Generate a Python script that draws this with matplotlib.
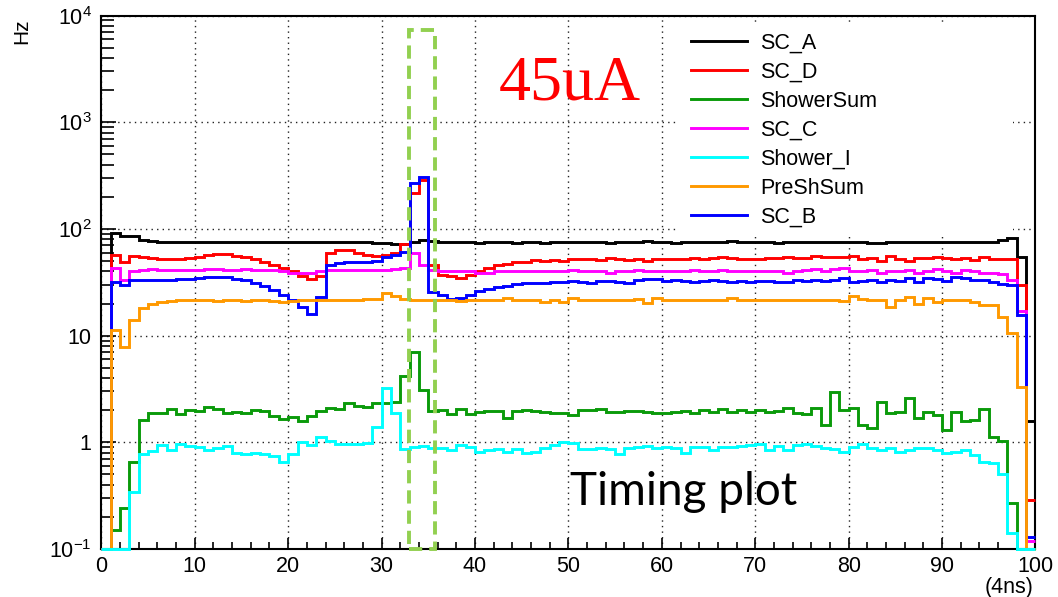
import numpy as np
import matplotlib
matplotlib.use("Agg")
import matplotlib.pyplot as plt
from matplotlib.patches import Rectangle
from matplotlib.ticker import FixedLocator, NullFormatter, MultipleLocator

plt.rcParams['font.family'] = ['Liberation Sans', 'DejaVu Sans']
plt.rcParams['mathtext.fontset'] = 'custom'
plt.rcParams['mathtext.rm'] = 'Liberation Sans'

# bin edges: 100 bins of width 1 (unit = 4 ns)
edges = np.arange(0, 101)

sc_a = [0, 92, 86, 85, 79, 77, 76, 76, 75, 76, 75, 76, 76, 75, 76, 75, 75, 76, 75, 76,
        76, 75, 76, 76, 76, 75, 76, 75, 75, 74, 74, 73, 73, 76, 78, 77, 76, 75, 75, 75,
        74, 75, 75, 75, 74, 75, 75, 74, 75, 75, 75, 75, 75, 75, 74, 75, 75, 75, 77, 76,
        75, 74, 75, 75, 75, 75, 76, 77, 75, 75, 75, 75, 74, 75, 75, 75, 75, 75, 76, 76,
        75, 75, 74, 74, 76, 75, 75, 76, 76, 75, 75, 75, 76, 76, 76, 76, 78, 82, 55, 1.6]

sc_d = [0, 57, 49, 56, 54, 53, 52, 52, 52, 53, 55, 57, 58, 58, 56, 54, 52, 49, 46, 43,
        40, 36, 34, 36, 60, 64, 63, 60, 57, 56, 57, 59, 72, 216, 290, 46, 37, 36, 35, 37,
        40, 43, 46, 47, 49, 49, 51, 50, 51, 50, 52, 52, 52, 51, 53, 52, 51, 52, 50, 52,
        52, 52, 52, 53, 52, 53, 55, 53, 52, 52, 52, 53, 53, 54, 53, 53, 56, 54, 54, 54,
        56, 52, 53, 50, 56, 52, 50, 53, 53, 55, 53, 52, 53, 51, 55, 52, 52, 52, 30, 0.29]

shower_sum = [0, 0.15, 0.24, 0.66, 1.62, 1.9, 1.9, 2.05, 1.84, 2.0,
              1.95, 2.16, 2.05, 1.87, 1.93, 1.9, 2.01, 1.95, 1.77, 1.67,
              1.71, 1.6, 1.77, 1.95, 2.1, 2.05, 2.32, 2.2, 2.16, 2.32,
              2.35, 2.4, 4.2, 7.1, 3.1, 1.95, 2.0, 1.83, 2.04, 1.83,
              1.94, 1.95, 1.97, 1.7, 1.97, 2.0, 1.97, 1.94, 1.9, 1.88,
              1.8, 2.0, 2.0, 2.04, 1.94, 1.94, 1.96, 1.96, 1.94, 1.87,
              1.9, 1.94, 1.96, 1.9, 2.0, 1.94, 2.04, 1.94, 2.0, 1.94,
              2.0, 1.94, 1.97, 2.08, 1.9, 1.85, 2.1, 1.45, 2.98, 2.0,
              2.08, 1.45, 1.35, 2.4, 1.87, 1.94, 2.58, 1.7, 1.94, 1.8,
              1.3, 1.94, 1.6, 1.62, 2.04, 1.13, 1.03, 0.27, 0, 0]

sc_c = [0, 43, 33, 40, 41, 42, 41, 41, 41, 41, 41, 42, 42, 41, 41, 42, 41, 41, 41, 40,
        39, 38.5, 38.5, 40.5, 41, 41, 41, 41, 41, 41, 41, 42, 43, 60, 46, 41, 40, 40, 40, 40,
        39, 38.5, 40, 40, 40, 40, 40, 40, 40, 40, 41.5, 40, 40, 40, 39, 40, 40, 41.5, 40, 40,
        40, 40.7, 40.7, 41.3, 40.7, 40, 41.3, 40.7, 40.7, 40, 40.7, 40.7, 40, 39, 40.7, 41.3, 41.8, 40, 41.8, 42.7,
        40, 40, 41.3, 39, 40.7, 40, 41.3, 39, 40.7, 41.8, 40, 39, 41.3, 40, 39, 39, 37.5, 33, 17, 0.12]

shower_i = [0, 0, 0, 0.34, 0.77, 0.83, 0.94, 0.85, 0.96, 0.92,
            0.9, 0.84, 0.89, 0.92, 0.79, 0.78, 0.79, 0.78, 0.75, 0.66,
            0.77, 1.0, 0.94, 1.11, 1.04, 0.96, 0.97, 0.97, 0.98, 1.4,
            3.2, 1.87, 0.86, 0.91, 0.92, 0.88, 0.88, 0.85, 0.94, 0.9,
            0.82, 0.85, 0.86, 0.82, 0.86, 0.79, 0.82, 0.88, 0.94, 1.01,
            0.98, 0.87, 0.87, 0.88, 0.87, 0.78, 0.88, 0.91, 0.92, 0.88,
            0.91, 0.88, 0.79, 0.91, 0.91, 0.84, 0.91, 0.91, 0.92, 0.94,
            0.96, 0.84, 0.92, 0.84, 0.94, 0.96, 0.92, 0.88, 0.87, 0.82,
            0.91, 0.96, 0.88, 0.84, 0.88, 0.82, 0.84, 0.88, 0.88, 0.85,
            0.79, 0.82, 0.84, 0.76, 0.66, 0.64, 0.5, 0.14, 0, 0]

pre_sh_sum = [0, 11.3, 7.8, 14, 18, 20, 20.8, 21, 21.4, 21.4,
              21.6, 21.6, 21, 21.6, 21.6, 21, 21.6, 21.6, 21, 20.8,
              21, 21.6, 21.6, 21.6, 21.6, 21.6, 21.6, 21.6, 22, 22,
              25, 23.5, 22, 21.6, 21.6, 21.6, 21.6, 21.6, 21, 21.6,
              21.6, 21.6, 21.6, 22.4, 21.6, 21.6, 21.6, 20.6, 21.6, 20.6,
              22.4, 21.6, 21.6, 21.6, 21.6, 21.6, 21.6, 22, 20.4, 22.4,
              21.6, 21.6, 21.6, 21.6, 21.6, 21.6, 21.6, 22.4, 21.6, 21.6,
              21.6, 21.6, 21.6, 21.6, 21.6, 21.6, 21.6, 21.6, 21.6, 21,
              23.5, 22, 21.6, 21.6, 18.5, 21.6, 23, 20, 22.5, 20.5,
              21.6, 21.6, 21.6, 20.8, 19.4, 19.4, 15, 10.5, 3.3, 0]

sc_b = [0, 32, 30, 33, 33, 33, 33.3, 33.3, 34, 34, 34.6, 35.8, 35.8, 35.3, 34, 33, 31, 29, 26.8, 24,
        21.6, 18.5, 15.8, 23, 46, 48, 49, 49, 49, 50, 54, 57, 61, 269, 306, 25.5, 24.2, 22, 22.4, 24.2,
        26, 27.5, 28.7, 29.5, 30.2, 31, 31.4, 31.4, 32, 32, 32.8, 32, 31.4, 32.8, 32.8, 32, 31.4, 33.5, 34, 34,
        32.7, 33.3, 32.7, 32.1, 32.7, 33.3, 32.7, 32.1, 32.7, 32.1, 32.7, 32.7, 32.1, 32.1, 33.3, 32.7, 33.3, 32.7, 33.3, 34.6,
        32.1, 32.7, 33.3, 32.1, 33.3, 32.7, 34.6, 31.5, 34.6, 34, 32.7, 35.5, 34.6, 33.3, 33.3, 32.1, 30.5, 30, 15.6, 0.13]

names = ["SC_A", "SC_D", "ShowerSum", "SC_C", "Shower_I", "PreShSum", "SC_B"]
series = [sc_a, sc_d, shower_sum, sc_c, shower_i, pre_sh_sum, sc_b]
colors = ["#000000", "#ff0000", "#0a9a0a", "#ff00ff", "#00ffff", "#ff9900", "#0000ff"]
zorders = [2, 3, 4, 5, 8, 7, 6]

ymin, ymax = 0.1, 1e4

fig = plt.figure(figsize=(10.58, 5.97), dpi=100)
ax = fig.add_axes([0.0958, 0.0804, 0.8829, 0.8935])

handles = []
for name, vals, col, zo in zip(names, series, colors, zorders):
    v = np.clip(np.array(vals, dtype=float), ymin, None)
    h = ax.stairs(v, edges, baseline=None, color=col, linewidth=2.1,
                  zorder=zo, clip_on=False, label=name)
    handles.append(h)

ax.set_yscale('log')
ax.set_xlim(0, 100)
ax.set_ylim(ymin, ymax)

# timing window box
ax.add_patch(Rectangle((32.9, ymin), 2.8, 7400 - ymin, fill=False,
                       edgecolor='#92d050', linewidth=2.8,
                       linestyle=(0, (3.4, 1.8)), zorder=9, clip_on=False))

# white legend pad (ROOT TLegend box is wider than its text)
ax.add_patch(Rectangle((0.616, 0.587), 0.36, 0.395, transform=ax.transAxes,
                       facecolor='white', edgecolor='none', zorder=1.5))

# ticks, ROOT style
ax.xaxis.set_major_locator(MultipleLocator(10))
ax.xaxis.set_minor_locator(MultipleLocator(2))
ax.yaxis.set_major_locator(FixedLocator([0.1, 1, 10, 100, 1000, 10000]))
minors = [m * 10.0 ** e for e in range(-1, 4) for m in range(2, 10)]
ax.yaxis.set_minor_locator(FixedLocator(minors))
ax.yaxis.set_minor_formatter(NullFormatter())
ax.set_yticklabels([r'$10^{-1}$', '1', '10', r'$10^{2}$', r'$10^{3}$', r'$10^{4}$'])

ax.tick_params(axis='both', which='both', direction='in', top=False, right=False,
               labelsize=15.5, width=1.2)
ax.tick_params(axis='x', which='major', length=8, pad=5)
ax.tick_params(axis='x', which='minor', length=5)
ax.tick_params(axis='y', which='major', length=11, pad=7)
ax.tick_params(axis='y', which='minor', length=9)

for sp in ax.spines.values():
    sp.set_linewidth(1.5)

ax.grid(True, which='major', color='#222222', linestyle=(0, (1, 3)), linewidth=1.0)
ax.set_axisbelow(True)

leg = ax.legend(handles=handles, labels=names, loc='upper left',
                bbox_to_anchor=(0.6225, 0.984), borderaxespad=0, fontsize=15.5,
                frameon=True, fancybox=False, framealpha=1, facecolor='white',
                edgecolor='none', handlelength=2.6, handletextpad=0.6,
                labelspacing=0.37, borderpad=0.4)
leg.set_zorder(10)
for line in leg.get_lines():
    line.set_linewidth(2.1)

ax.text(42.5, 1625, "45uA", color='#ff0000', fontsize=46,
        family='Liberation Serif', zorder=11)
ax.text(50.2, 0.258, "Timing plot", color='black', fontsize=33,
        family='Lato', zorder=11)

fig.text(0.021, 1 - 18 / 597, "Hz", rotation=90, ha='center', va='top', fontsize=15)
fig.text(1033 / 1058, 1 - 587 / 597, "(4ns)", ha='right', va='center', fontsize=15.5)

fig.savefig("out.png", dpi=100)
